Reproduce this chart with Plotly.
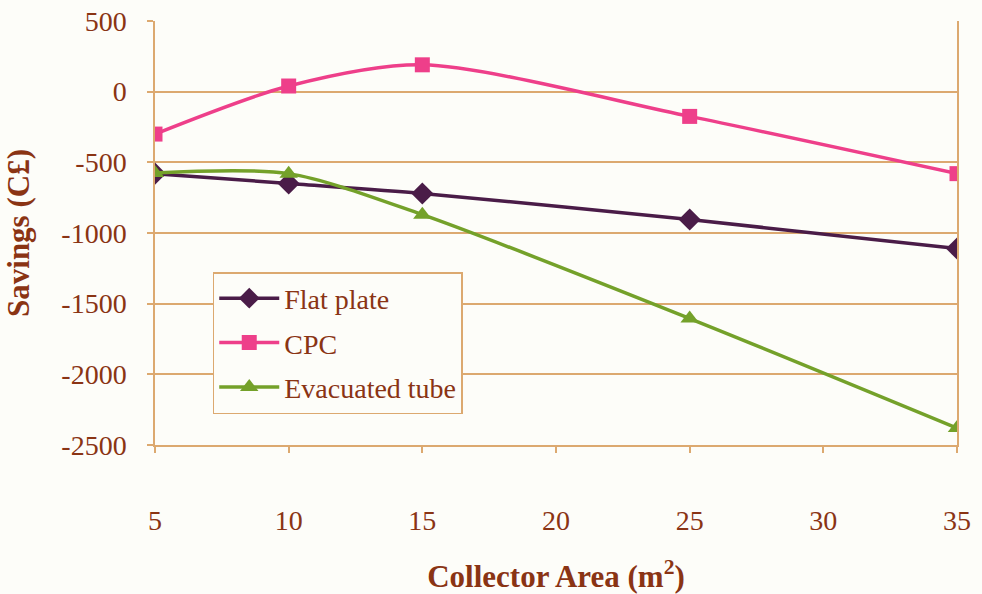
import plotly.graph_objects as go

# Collector area (m^2) and annual savings for each collector type
area = [5, 10, 15, 25, 35]
flat_plate = [-580, -650, -720, -905, -1110]
cpc = [-300, 40, 190, -175, -580]
evacuated_tube = [-575, -580, -870, -1605, -2380]

x_ticks = [5, 10, 15, 20, 25, 30, 35]
y_ticks = [500, 0, -500, -1000, -1500, -2000, -2500]

TEXT = "#8A3414"
GRID = "#DCA970"
BG = "#FDFDF9"
FONT = "Liberation Serif, Times New Roman, serif"

fig = go.Figure()

series = [
    ("Flat plate", flat_plate, "#4A1C48", "diamond", 17),
    ("CPC", cpc, "#EE3F8A", "square", 15),
    ("Evacuated tube", evacuated_tube, "#74A12A", "triangle-up", 16),
]
for name, vals, color, symbol, size in series:
    fig.add_trace(go.Scatter(
        x=area, y=vals, name=name, mode="lines+markers", legendgroup=name,
        line=dict(color=color, width=3.5, shape="spline", smoothing=0.8),
        marker=dict(color=color, symbol=symbol, size=size),
    ))

fig.update_layout(
    width=982, height=594,
    margin=dict(l=155, r=25, t=21, b=149),
    paper_bgcolor=BG,
    plot_bgcolor=BG,
    font=dict(family=FONT, color=TEXT, size=28),
    showlegend=True,
    legend=dict(
        x=0.072, y=0.408, xanchor="left", yanchor="top",
        bgcolor=BG, bordercolor=GRID, borderwidth=1.5,
        font=dict(family=FONT, size=28, color=TEXT),
        tracegroupgap=5, itemwidth=60,
    ),
)

fig.update_xaxes(
    range=[5, 35], tickvals=x_ticks, ticktext=[str(v) for v in x_ticks],
    showgrid=False, zeroline=False, automargin=False,
    showline=True, linecolor=GRID, linewidth=1.5,
    ticks="outside", ticklen=6, tickcolor=GRID, tickwidth=1.5,
    ticklabelstandoff=44,
    tickfont=dict(size=28, family=FONT, color=TEXT),
    title=dict(text="<b>Collector Area (m<sup>2</sup>)</b>", standoff=34,
               font=dict(size=31, family=FONT, color=TEXT)),
)
fig.update_yaxes(
    range=[-2500, 500], tickvals=y_ticks, ticktext=[str(v) for v in y_ticks],
    showgrid=True, gridcolor=GRID, gridwidth=1.5, zeroline=False, automargin=False,
    showline=True, linecolor=GRID, linewidth=1.5, mirror=True,
    ticks="outside", ticklen=6, tickcolor=GRID, tickwidth=1.5,
    ticklabelstandoff=15,
    tickfont=dict(size=28, family=FONT, color=TEXT),
    title=dict(text="<b>Savings (C£)</b>", standoff=22,
               font=dict(size=31, family=FONT, color=TEXT)),
)

fig.write_html("out.html")
